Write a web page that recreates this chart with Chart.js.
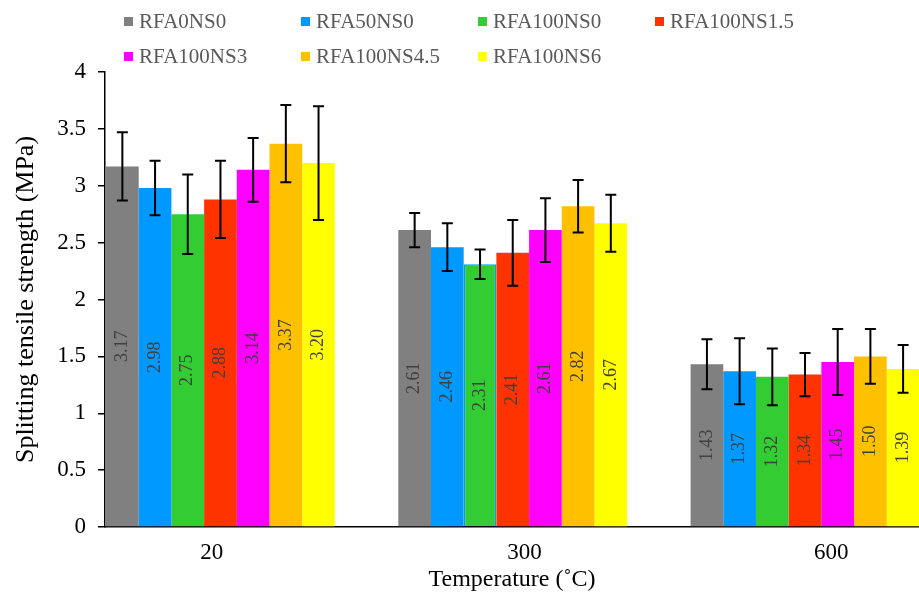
<!DOCTYPE html>
<html>
<head>
<meta charset="utf-8">
<script src="https://cdn.jsdelivr.net/npm/chart.js@4.4.0/dist/chart.umd.min.js"></script>
<style>
  html, body { margin: 0; padding: 0; background: #fff; overflow: hidden; }
  #wrap { position: relative; width: 919px; height: 595px; }
  #legend {
    position: absolute; left: 124px; top: 4px;
    display: grid; grid-template-columns: repeat(4, 177px); grid-auto-rows: 35px;
    font-family: 'Liberation Serif', 'Times New Roman', serif; font-size: 21px; color: #595959;
  }
  .item { display: flex; align-items: center; white-space: nowrap; }
  .box { width: 9px; height: 9px; margin-right: 6px; flex: none; }
</style>
</head>
<body>
<div id="wrap">
  <canvas id="chart" width="919" height="595"></canvas>
  <div id="legend"></div>
</div>
<script>
const temperatures = ['20', '300', '600'];
const mixes = ['RFA0NS0', 'RFA50NS0', 'RFA100NS0', 'RFA100NS1.5', 'RFA100NS3', 'RFA100NS4.5', 'RFA100NS6'];
const colors = ['#808080', '#0099FF', '#33CC33', '#FF3300', '#FF00FF', '#FFC000', '#FFFF00'];

// mean splitting tensile strength (MPa) at 20 / 300 / 600 °C
const rfa0ns0   = [3.17, 2.61, 1.43];
const rfa50ns0  = [2.98, 2.46, 1.37];
const rfa100ns0 = [2.75, 2.31, 1.32];
const rfa100ns15 = [2.88, 2.41, 1.34];
const rfa100ns3 = [3.14, 2.61, 1.45];
const rfa100ns45 = [3.37, 2.82, 1.50];
const rfa100ns6 = [3.20, 2.67, 1.39];

// standard deviations for the error bars
const sd0ns0   = [0.30, 0.15, 0.22];
const sd50ns0  = [0.24, 0.21, 0.29];
const sd100ns0 = [0.35, 0.13, 0.25];
const sd100ns15 = [0.34, 0.29, 0.19];
const sd100ns3 = [0.28, 0.28, 0.29];
const sd100ns45 = [0.34, 0.23, 0.24];
const sd100ns6 = [0.50, 0.25, 0.21];

const yTicks = [0, 0.5, 1, 1.5, 2, 2.5, 3, 3.5, 4];

const means = [rfa0ns0, rfa50ns0, rfa100ns0, rfa100ns15, rfa100ns3, rfa100ns45, rfa100ns6];
const errors = [sd0ns0, sd50ns0, sd100ns0, sd100ns15, sd100ns3, sd100ns45, sd100ns6];

const serif = "'Liberation Serif', 'Times New Roman', serif";

// where the temperature labels sit along the x axis (group index units)
const labelAt = [-0.03, 1.04, 2.09];

// value labels inside the bars + error bars on top
const barExtras = {
  id: 'barExtras',
  afterDatasetsDraw(chart) {
    const ctx = chart.ctx;
    const yScale = chart.scales.y;
    const area = chart.chartArea;
    ctx.save();
    ctx.beginPath();
    ctx.rect(area.left, 0, area.right - area.left, chart.height);
    ctx.clip();
    chart.data.datasets.forEach((ds, i) => {
      chart.getDatasetMeta(i).data.forEach((bar, j) => {
        ctx.save();
        ctx.translate(bar.x, (bar.y + bar.base) / 2);
        ctx.rotate(-Math.PI / 2);
        ctx.font = '18px ' + serif;
        ctx.fillStyle = '#404040';
        ctx.textAlign = 'center';
        ctx.textBaseline = 'middle';
        ctx.fillText(ds.data[j].y.toFixed(2), 0, 0);
        ctx.restore();
      });
    });
    ctx.strokeStyle = '#000';
    ctx.lineWidth = 2;
    chart.data.datasets.forEach((ds, i) => {
      chart.getDatasetMeta(i).data.forEach((bar, j) => {
        const v = ds.data[j].y, e = ds.errors[j];
        const top = yScale.getPixelForValue(v + e);
        const bot = yScale.getPixelForValue(v - e);
        ctx.beginPath();
        ctx.moveTo(bar.x, top); ctx.lineTo(bar.x, bot);
        ctx.moveTo(bar.x - 5.5, top); ctx.lineTo(bar.x + 5.5, top);
        ctx.moveTo(bar.x - 5.5, bot); ctx.lineTo(bar.x + 5.5, bot);
        ctx.stroke();
      });
    });
    ctx.restore();
  }
};

const datasets = mixes.map((name, i) => ({
  label: name,
  data: means[i].map((v, k) => ({ x: k, y: v })),
  errors: errors[i],
  backgroundColor: colors[i],
  borderWidth: 0,
  categoryPercentage: 0.783,
  barPercentage: 1
}));
// the 300 °C RFA100NS0 bar carries a thin blue outline
datasets[2].borderWidth = [0, 1.5, 0];
datasets[2].borderColor = '#0099FF';

const chart = new Chart(document.getElementById('chart'), {
  type: 'bar',
  data: { datasets },
  plugins: [barExtras],
  options: {
    responsive: false,
    animation: false,
    layout: { padding: { top: 72, right: 0, bottom: 0, left: 0 } },
    plugins: { legend: { display: false }, tooltip: { enabled: false } },
    scales: {
      x: {
        type: 'linear',
        offset: false,
        min: -0.395,
        max: 2.39,
        afterBuildTicks(s) { s.ticks = labelAt.map(v => ({ value: v })); },
        afterFit(s) { s.height = 68; },
        ticks: {
          callback: (v, i) => temperatures[i],
          autoSkip: false, maxRotation: 0,
          color: '#000', padding: 12,
          font: { family: serif, size: 23 }
        },
        grid: { display: false, drawTicks: false },
        border: { display: true, color: '#000', width: 1.5 },
        title: {
          display: true, text: 'Temperature (˚C)', color: '#000',
          font: { family: serif, size: 24 }, padding: { top: 0, bottom: 1 }
        }
      },
      y: {
        min: 0,
        max: 4,
        afterBuildTicks(s) { s.ticks = yTicks.map(v => ({ value: v })); },
        afterFit(s) { s.width = 105; },
        ticks: { callback: v => String(v), color: '#000', padding: 12, font: { family: serif, size: 23 } },
        grid: { display: true, drawOnChartArea: false, drawTicks: true, tickLength: 7, color: '#000', lineWidth: 1.5 },
        border: { display: true, color: '#000', width: 1.5 },
        title: {
          display: true, text: 'Splitting tensile strength (MPa)', color: '#000',
          font: { family: serif, size: 26 }, padding: { top: 11, bottom: 0 }
        }
      }
    }
  }
});

// legend laid out in fixed columns, two rows
const legend = document.getElementById('legend');
chart.data.datasets.forEach(ds => {
  const item = document.createElement('div');
  item.className = 'item';
  const box = document.createElement('span');
  box.className = 'box';
  box.style.background = ds.backgroundColor;
  item.appendChild(box);
  item.appendChild(document.createTextNode(ds.label));
  legend.appendChild(item);
});
</script>
</body>
</html>
